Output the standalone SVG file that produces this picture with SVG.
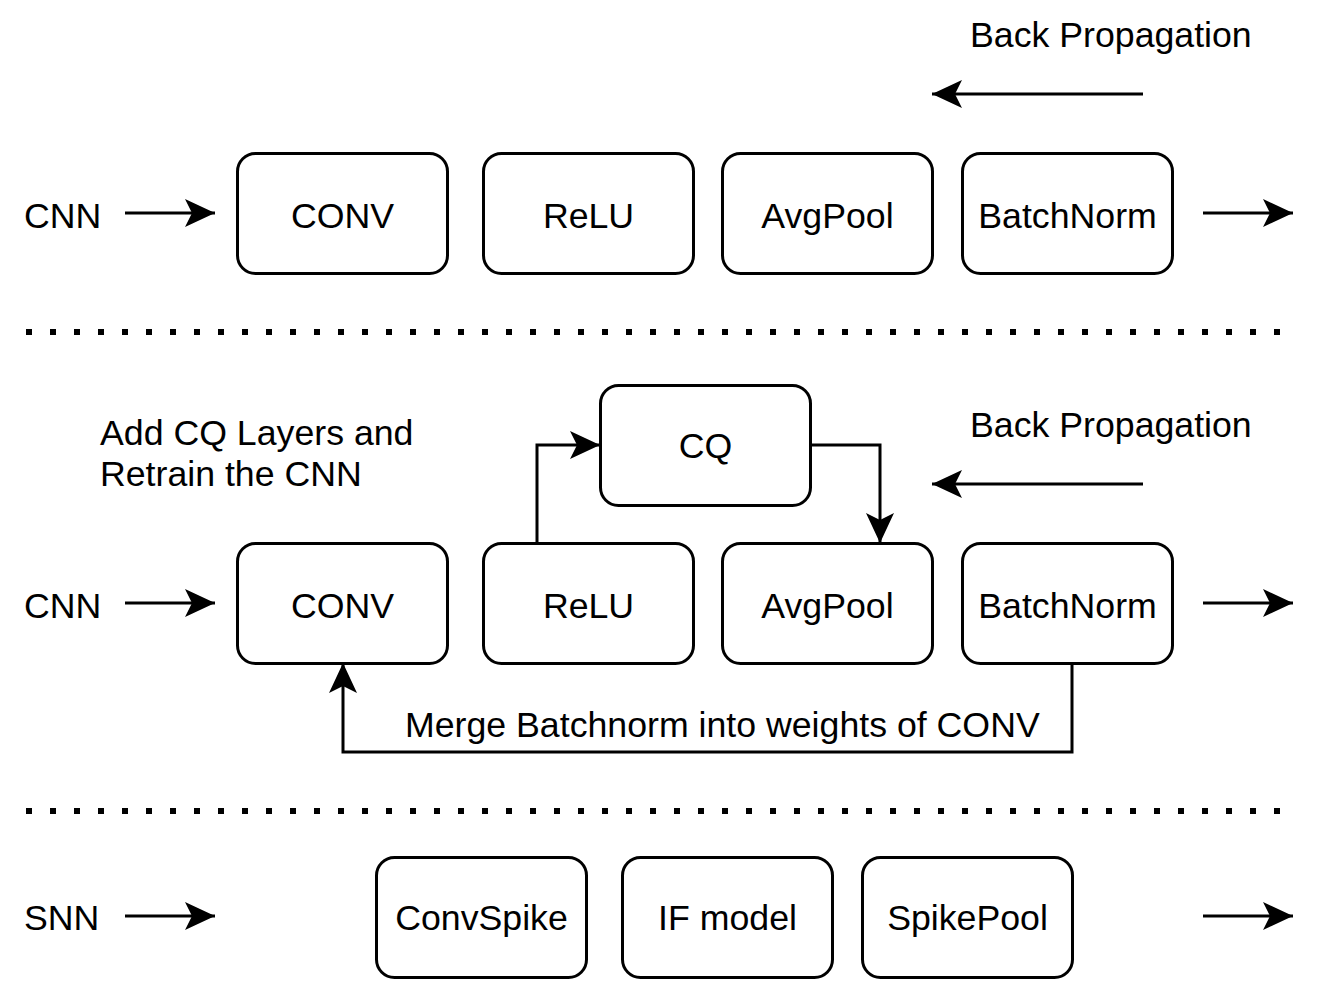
<svg xmlns="http://www.w3.org/2000/svg" width="1321" height="983" viewBox="0 0 1321 983">
<defs>
<style>
.box{fill:#fff;stroke:#000;stroke-width:3}
.t{font-family:"Liberation Sans",Arial,sans-serif;font-size:35.7px;fill:#000}
.c{text-anchor:middle}
.ln{fill:none;stroke:#000;stroke-width:3}
.dot{fill:none;stroke:#000;stroke-width:6;stroke-dasharray:6 18}
</style>
<marker id="ah" markerUnits="userSpaceOnUse" markerWidth="32" markerHeight="30" refX="30" refY="14" orient="auto" overflow="visible">
<path d="M0,0 L30,14 L0,28 L7,14 z" fill="#000"/>
</marker>
</defs>
<rect width="1321" height="983" fill="#fff"/>
<g id="separators">
<line class="dot" x1="26" y1="332" x2="1290" y2="332"/>
<line class="dot" x1="26" y1="811" x2="1290" y2="811"/>
</g>
<g id="labels">
<text class="t" x="24" y="228">CNN</text>
<text class="t" x="970" y="47">Back Propagation</text>
<text class="t" x="24" y="618">CNN</text>
<text class="t" x="970" y="437">Back Propagation</text>
<text class="t" x="100" y="445">Add CQ Layers and</text>
<text class="t" x="100" y="486">Retrain the CNN</text>
<text class="t" x="24" y="930">SNN</text>
<text class="t" x="405" y="737">Merge Batchnorm into weights of CONV</text>
</g>
<g id="connectors">
<line class="ln" x1="125" y1="213" x2="215" y2="213" marker-end="url(#ah)"/>
<line class="ln" x1="1203" y1="213" x2="1293" y2="213" marker-end="url(#ah)"/>
<line class="ln" x1="1143" y1="94" x2="932" y2="94" marker-end="url(#ah)"/>
<line class="ln" x1="125" y1="603" x2="215" y2="603" marker-end="url(#ah)"/>
<line class="ln" x1="1203" y1="603" x2="1293" y2="603" marker-end="url(#ah)"/>
<line class="ln" x1="1143" y1="484" x2="932" y2="484" marker-end="url(#ah)"/>
<polyline class="ln" points="537,543 537,445 600,445" marker-end="url(#ah)"/>
<polyline class="ln" points="810,445 880,445 880,543" marker-end="url(#ah)"/>
<polyline class="ln" points="1072,663 1072,752 343,752 343,663" marker-end="url(#ah)"/>
<line class="ln" x1="125" y1="916" x2="215" y2="916" marker-end="url(#ah)"/>
<line class="ln" x1="1203" y1="916" x2="1293" y2="916" marker-end="url(#ah)"/>
</g>
<g id="conv1"><rect class="box" x="237.5" y="153.5" width="210" height="120" rx="18"/><text class="t c" x="342.5" y="228">CONV</text></g>
<g id="relu1"><rect class="box" x="483.5" y="153.5" width="210" height="120" rx="18"/><text class="t c" x="588.5" y="228">ReLU</text></g>
<g id="avgpool1"><rect class="box" x="722.5" y="153.5" width="210" height="120" rx="18"/><text class="t c" x="827.5" y="228">AvgPool</text></g>
<g id="batchnorm1"><rect class="box" x="962.5" y="153.5" width="210" height="120" rx="18"/><text class="t c" x="1067.5" y="228">BatchNorm</text></g>
<g id="cq"><rect class="box" x="600.5" y="385.5" width="210" height="120" rx="18"/><text class="t c" x="705.5" y="458">CQ</text></g>
<g id="conv2"><rect class="box" x="237.5" y="543.5" width="210" height="120" rx="18"/><text class="t c" x="342.5" y="618">CONV</text></g>
<g id="relu2"><rect class="box" x="483.5" y="543.5" width="210" height="120" rx="18"/><text class="t c" x="588.5" y="618">ReLU</text></g>
<g id="avgpool2"><rect class="box" x="722.5" y="543.5" width="210" height="120" rx="18"/><text class="t c" x="827.5" y="618">AvgPool</text></g>
<g id="batchnorm2"><rect class="box" x="962.5" y="543.5" width="210" height="120" rx="18"/><text class="t c" x="1067.5" y="618">BatchNorm</text></g>
<g id="convspike"><rect class="box" x="376.5" y="857.5" width="210" height="120" rx="18"/><text class="t c" x="481.5" y="930">ConvSpike</text></g>
<g id="ifmodel"><rect class="box" x="622.5" y="857.5" width="210" height="120" rx="18"/><text class="t c" x="727.5" y="930">IF model</text></g>
<g id="spikepool"><rect class="box" x="862.5" y="857.5" width="210" height="120" rx="18"/><text class="t c" x="967.5" y="930">SpikePool</text></g>
</svg>
